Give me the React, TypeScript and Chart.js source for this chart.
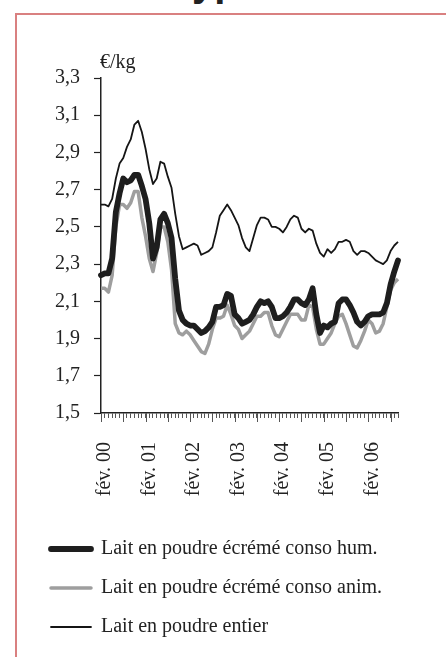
import React, { useEffect, useRef } from "react";
import { Chart, registerables } from "chart.js";

Chart.register(...registerables);

const monthNames = ["janv.", "fév.", "mars", "avr.", "mai", "juin", "juil.", "août", "sept.", "oct.", "nov.", "déc."];
const startYear = 2000;
const startMonth = 1; // février
const monthCount = 81;
const categories: string[] = [];
for (let i = 0; i < monthCount; i++) {
  const m = (startMonth + i) % 12;
  const yr = startYear + Math.floor((startMonth + i) / 12);
  categories.push(monthNames[m] + " " + String(yr % 100).padStart(2, "0"));
}

const yTicks = [1.5, 1.7, 1.9, 2.1, 2.3, 2.5, 2.7, 2.9, 3.1, 3.3];

const seriesHum = [
  2.24, 2.25, 2.25, 2.33, 2.58, 2.68, 2.76, 2.74, 2.75, 2.78,
  2.78, 2.72, 2.65, 2.52, 2.33, 2.39, 2.54, 2.57, 2.52, 2.44,
  2.22, 2.05, 2.0, 1.98, 1.97, 1.97, 1.95, 1.93, 1.94, 1.96,
  1.99, 2.07, 2.07, 2.08, 2.14, 2.13, 2.03, 2.01, 1.98, 1.99,
  2.0, 2.03, 2.07, 2.1, 2.09, 2.1, 2.07, 2.01, 2.01, 2.02,
  2.04, 2.07, 2.11, 2.11, 2.09, 2.08, 2.11, 2.17, 2.03, 1.93,
  1.97, 1.96, 1.98, 1.99, 2.09, 2.11, 2.11, 2.08, 2.04, 1.99,
  1.97, 1.99, 2.02, 2.03, 2.03, 2.03, 2.04, 2.09, 2.19, 2.26,
  2.32,
];

const seriesAnim = [
  2.17, 2.17, 2.15, 2.24, 2.5, 2.62, 2.62, 2.6, 2.63, 2.69,
  2.69, 2.55, 2.45, 2.33, 2.26, 2.36, 2.5, 2.5, 2.42, 2.27,
  1.98, 1.93, 1.92, 1.94, 1.92, 1.89, 1.86, 1.83, 1.82, 1.87,
  1.95, 2.01, 2.01, 2.02, 2.08, 2.03, 1.97, 1.95, 1.9, 1.92,
  1.94, 1.98, 2.02, 2.02, 2.04, 2.04, 1.97, 1.92, 1.91, 1.95,
  1.99, 2.03, 2.03, 2.03, 2.0, 2.0, 2.08, 2.07, 1.95, 1.87,
  1.87, 1.9, 1.93, 1.98, 2.02, 2.03, 1.98, 1.92, 1.86, 1.85,
  1.89, 1.94, 2.0, 1.98, 1.93, 1.94, 1.98, 2.07, 2.16, 2.2,
  2.22,
];

const seriesEntier = [
  2.62, 2.62, 2.61, 2.65, 2.76, 2.84, 2.87, 2.93, 2.97, 3.05,
  3.07, 3.01, 2.92, 2.81, 2.73, 2.76, 2.85, 2.84, 2.77, 2.71,
  2.57, 2.45, 2.38, 2.39, 2.4, 2.41, 2.4, 2.35, 2.36, 2.37,
  2.39, 2.47, 2.56, 2.59, 2.62, 2.59, 2.55, 2.51, 2.44, 2.39,
  2.37, 2.44, 2.51, 2.55, 2.55, 2.54, 2.5, 2.5, 2.49, 2.47,
  2.5, 2.54, 2.56, 2.55, 2.49, 2.47, 2.49, 2.48, 2.41, 2.36,
  2.34, 2.38, 2.36, 2.38, 2.42, 2.42, 2.43, 2.42, 2.37, 2.35,
  2.37, 2.37, 2.36, 2.34, 2.32, 2.31, 2.3, 2.32, 2.37, 2.4,
  2.42,
];

const seriesLabels = [
  "Lait en poudre écrémé conso hum.",
  "Lait en poudre écrémé conso anim.",
  "Lait en poudre entier",
];

const SERIF = '"Liberation Serif", "Times New Roman", serif';

const extrasPlugin = {
  id: "extras",
  afterDraw(chart: any) {
    const { ctx, chartArea } = chart;
    const x = chart.scales.x;
    ctx.save();
    ctx.strokeStyle = "#555";
    ctx.lineWidth = 1;
    for (let i = 0; i < categories.length; i++) {
      if (i % 6 === 0) {
        const px = Math.round(x.getPixelForValue(i)) + 0.5;
        ctx.beginPath();
        ctx.moveTo(px, chartArea.bottom);
        ctx.lineTo(px, chartArea.bottom + 9);
        ctx.stroke();
      }
    }
    ctx.font = "20px " + SERIF;
    ctx.fillStyle = "#222";
    ctx.textAlign = "left";
    ctx.textBaseline = "alphabetic";
    ctx.fillText("€/kg", chartArea.left - 1, chartArea.top - 10);
    ctx.restore();
  },
};

const titleStyle: React.CSSProperties = {
  position: "absolute",
  top: -38,
  fontFamily: '"Liberation Sans", Arial, sans-serif',
  fontWeight: "bold",
  fontSize: 40,
  lineHeight: "40px",
  color: "#222",
  whiteSpace: "nowrap",
};

export default function App() {
  const ref = useRef<HTMLCanvasElement | null>(null);

  useEffect(() => {
    if (!ref.current) return;
    const chart = new Chart(ref.current, {
      type: "line",
      data: {
        labels: categories,
        datasets: [
          {
            label: seriesLabels[0],
            data: seriesHum,
            borderColor: "#1e1e1e",
            backgroundColor: "#1e1e1e",
            borderWidth: 5.8,
            borderCapStyle: "round",
            borderJoinStyle: "round",
            pointRadius: 0,
            tension: 0,
          },
          {
            label: seriesLabels[1],
            data: seriesAnim,
            borderColor: "#9e9e9e",
            backgroundColor: "#9e9e9e",
            borderWidth: 3.5,
            borderJoinStyle: "round",
            pointRadius: 0,
            tension: 0,
          },
          {
            label: seriesLabels[2],
            data: seriesEntier,
            borderColor: "#151515",
            backgroundColor: "#151515",
            borderWidth: 1.8,
            borderJoinStyle: "round",
            pointRadius: 0,
            tension: 0,
          },
        ],
      },
      options: {
        responsive: false,
        animation: false,
        devicePixelRatio: 1,
        layout: { padding: { left: 15, right: 30, top: 63, bottom: 10 } },
        plugins: {
          title: { display: false },
          tooltip: { enabled: false },
          legend: {
            display: true,
            position: "bottom",
            align: "start",
            labels: {
              boxWidth: 40,
              boxHeight: 0,
              padding: 19,
              color: "#222",
              font: { family: SERIF, size: 20 },
            },
          },
        },
        scales: {
          x: {
            type: "category",
            offset: false,
            afterFit: (scale: any) => {
              scale.height = 107;
            },
            grid: {
              display: true,
              drawOnChartArea: false,
              drawTicks: true,
              tickLength: 5,
              tickColor: "#555",
              tickWidth: 1,
            },
            border: { display: true, color: "#222", width: 1.5 },
            ticks: {
              autoSkip: false,
              maxRotation: 90,
              minRotation: 90,
              padding: 24,
              labelOffset: 4,
              color: "#222",
              font: { family: SERIF, size: 20 },
              callback: (_v: any, i: number) => (categories[i].startsWith("fév.") ? categories[i] : ""),
            },
          },
          y: {
            min: yTicks[0],
            max: yTicks[yTicks.length - 1],
            afterFit: (scale: any) => {
              scale.width = 69;
            },
            afterBuildTicks: (scale: any) => {
              scale.ticks = yTicks.map((v) => ({ value: v }));
            },
            grid: {
              display: true,
              drawOnChartArea: false,
              drawTicks: true,
              tickLength: 7,
              tickColor: "#222",
              tickWidth: 1.2,
            },
            border: { display: true, color: "#222", width: 1.5 },
            ticks: {
              padding: 14,
              color: "#222",
              font: { family: SERIF, size: 20 },
              callback: (v: any) => Number(v).toFixed(1).replace(".", ","),
            },
          },
        },
      },
      plugins: [extrasPlugin],
    });
    return () => chart.destroy();
  }, []);

  return (
    <div style={{ position: "absolute", left: 0, top: 0, width: 446, height: 657, overflow: "hidden", background: "#fff" }}>
      <div style={{ ...titleStyle, right: 254, textAlign: "right" }}>Prix des t</div>
      <div style={{ ...titleStyle, left: 192 }}>ypes</div>
      <div
        style={{
          position: "absolute",
          left: 15,
          top: 13,
          width: 500,
          height: 700,
          border: "2px solid #d98080",
          boxSizing: "border-box",
        }}
      />
      <canvas
        ref={ref}
        width={429}
        height={642}
        style={{ position: "absolute", left: 17, top: 15, width: 429, height: 642 }}
      />
    </div>
  );
}
